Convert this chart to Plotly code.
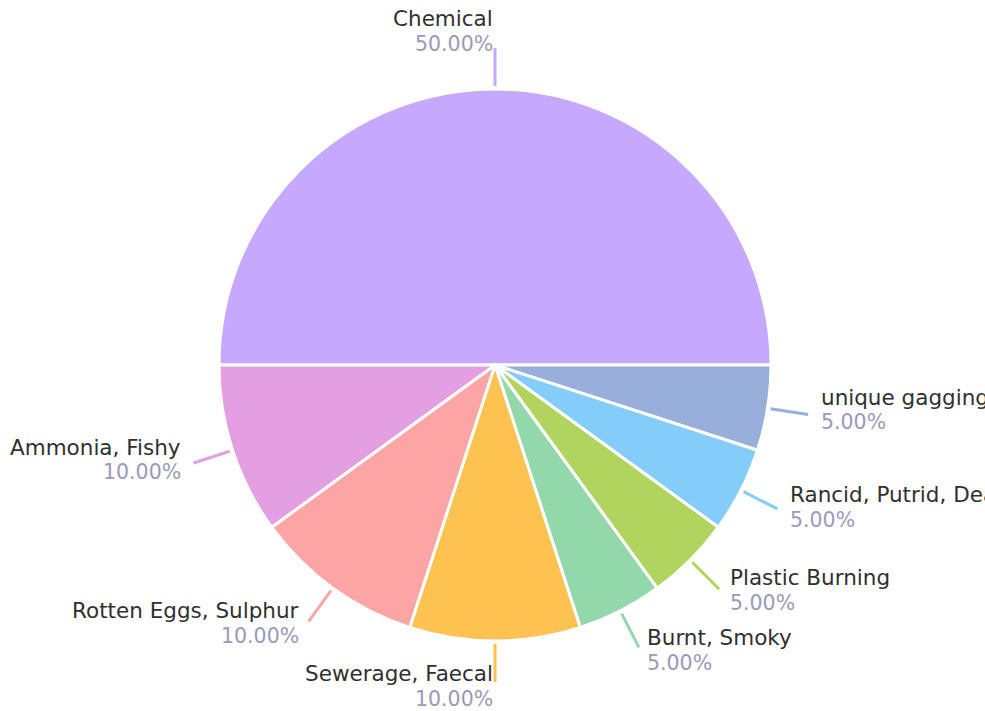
import math
import plotly.graph_objects as go

labels = ["Chemical", "unique gagging", "Rancid, Putrid, Dead", "Plastic Burning",
          "Burnt, Smoky", "Sewerage, Faecal", "Rotten Eggs, Sulphur", "Ammonia, Fishy"]
values = [50, 5, 5, 5, 5, 10, 10, 10]
colors = ["#c6a8fe", "#99afdb", "#84cdfb", "#b1d45e", "#93d8ab", "#fec251", "#fca5a4", "#e49fe2"]

W, H = 985, 711
CX, CY, R = 495, 365, 276
FONT = "DejaVu Sans"
FS_NAME = 21.5
FS_PCT = 20.5

fig = go.Figure(go.Pie(
    labels=labels, values=values, sort=False, direction="clockwise", rotation=-90,
    marker=dict(colors=colors, line=dict(color="white", width=3)),
    textinfo="none", hoverinfo="label+percent",
    domain=dict(x=[(CX - R) / W, (CX + R) / W], y=[(H - CY - R) / H, (H - CY + R) / H]),
    showlegend=False,
))

total = sum(values)
cum = 0.0
shapes, annos = [], []
for lab, v, c in zip(labels, values, colors):
    mid = (cum + v / 2) / total
    cum += v
    ang = math.radians(180 - 360 * mid)
    co, si = math.cos(ang), math.sin(ang)
    x0, y0 = CX + (R + 3) * co, CY - (R + 3) * si
    x1, y1 = CX + (R + 41) * co, CY - (R + 41) * si
    shapes.append(dict(type="line", xref="paper", yref="paper",
                       x0=x0 / W, y0=1 - y0 / H, x1=x1 / W, y1=1 - y1 / H,
                       line=dict(color=c, width=3)))
    right = co > 0.05
    gap = 11 * abs(co) ** 0.7 if abs(co) > 0.05 else 0
    tx = x1 + gap if right else x1 - gap
    ty = y1 + (-6.5 - 10.5 * si)
    pct = f"{100 * v / total:.2f}%"
    for txt, dy, col, fs in ((lab, -12.5, "#303030", FS_NAME), (pct, 12.5, "#9a9ab6", FS_PCT)):
        annos.append(dict(
            xref="paper", yref="paper", x=tx / W, y=1 - (ty + dy) / H,
            xanchor="left" if right else "right", yanchor="middle",
            align="left" if right else "right", showarrow=False,
            text=txt, font=dict(family=FONT, size=fs, color=col),
        ))

fig.update_layout(
    width=W, height=H, margin=dict(l=0, r=0, t=0, b=0),
    paper_bgcolor="white", plot_bgcolor="white",
    shapes=shapes, annotations=annos,
)
fig.write_html("out.html", config={"displayModeBar": False},
               post_script="document.body.style.margin='0';")
